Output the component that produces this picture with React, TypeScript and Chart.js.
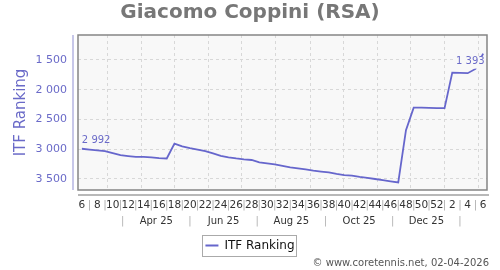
import { useEffect, useRef } from 'react';
import { Chart, registerables } from 'chart.js';

Chart.register(...registerables);

const playerName = 'Giacomo Coppini (RSA)';
const seriesLabel = 'ITF Ranking';
const credit = '\u00a9 www.coretennis.net, 02-04-2026';

const weeks: string[] = [
  '6', '7', '8', '9', '10', '11', '12', '13', '14', '15', '16', '17', '18', '19', '20', '21',
  '22', '23', '24', '25', '26', '27', '28', '29', '30', '31', '32', '33', '34', '35', '36', '37',
  '38', '39', '40', '41', '42', '43', '44', '45', '46', '47', '48', '49', '50', '51', '52',
  '1', '2', '3', '4', '5', '6',
];

const ranking: number[] = [
  2992, 3005, 3018, 3030, 3065, 3100, 3115, 3128, 3128, 3135, 3150, 3155,
  2904, 2950, 2980, 3005, 3030, 3070, 3110, 3135, 3155, 3170, 3181, 3220,
  3237, 3255, 3280, 3303, 3320, 3340, 3360, 3375, 3390, 3415, 3435, 3445,
  3465, 3482, 3500, 3520, 3540, 3558, 2680, 2300, 2302, 2305, 2308, 2310,
  1712, 1716, 1722, 1650, 1393,
];

const yTicks: number[] = [1500, 2000, 2500, 3000, 3500];
const yMin = 1080;
const yMax = 3685;

const firstWeekDate = '2025-02-06';
const monthStarts: string[] = [
  '2025-03-01', '2025-04-01', '2025-05-01', '2025-06-01', '2025-07-01', '2025-08-01',
  '2025-09-01', '2025-10-01', '2025-11-01', '2025-12-01', '2026-01-01', '2026-02-01',
];
const monthBreaks: string[] = [
  '2025-03-15', '2025-05-15', '2025-07-15', '2025-09-15', '2025-11-15', '2026-01-15',
];
const monthLabels: string[] = ['Apr 25', 'Jun 25', 'Aug 25', 'Oct 25', 'Dec 25'];

const FONT = 'DejaVu Sans';
const LINE = '#6666cc';
const BLUE_TEXT = '#6a6ac8';

const weekPos = (d: string) => (Date.parse(d) - Date.parse(firstWeekDate)) / (7 * 86400000);
const fmt = (v: number) => String(Math.round(v)).replace(/\B(?=(\d{3})+(?!\d))/g, ' ');

const monthTicks: { pos: number; text: string }[] = [];
monthBreaks.forEach((b, k) => {
  monthTicks.push({ pos: weekPos(b), text: '|' });
  if (k < monthLabels.length) {
    monthTicks.push({ pos: (weekPos(b) + weekPos(monthBreaks[k + 1])) / 2, text: monthLabels[k] });
  }
});

const decor = {
  id: 'decor',
  beforeDraw(chart: any) {
    const { ctx, chartArea: a } = chart;
    ctx.save();
    ctx.fillStyle = '#f8f8f8';
    ctx.fillRect(a.left, a.top, a.right - a.left, a.bottom - a.top);
    ctx.restore();
  },
  afterDatasetsDraw(chart: any) {
    const { ctx, chartArea: a } = chart;
    ctx.save();
    ctx.strokeStyle = '#858585';
    ctx.lineWidth = 1.5;
    ctx.strokeRect(a.left, a.top, a.right - a.left, a.bottom - a.top);

    const meta = chart.getDatasetMeta(0);
    const n = meta.data.length;
    const p0 = meta.data[0];
    const pn = meta.data[n - 1];
    ctx.font = `10px ${FONT}`;
    ctx.fillStyle = BLUE_TEXT;
    ctx.textAlign = 'left';
    ctx.textBaseline = 'alphabetic';
    ctx.fillText(fmt(ranking[0]), p0.x, p0.y - 6);

    const txt = fmt(ranking[n - 1]);
    const w = ctx.measureText(txt).width;
    ctx.fillStyle = '#f8f8f8';
    ctx.fillRect(pn.x + 1.5 - w - 1, pn.y + 3, w + 2, 12);
    ctx.fillStyle = BLUE_TEXT;
    ctx.textAlign = 'right';
    ctx.textBaseline = 'top';
    ctx.fillText(txt, pn.x + 1.5, pn.y + 3);
    ctx.restore();
  },
  afterDraw(chart: any) {
    const { ctx, chartArea: a } = chart;
    ctx.save();
    ctx.lineWidth = 1.5;
    ctx.strokeStyle = '#b4b4e2';
    ctx.beginPath();
    ctx.moveTo(a.left - 5, a.top);
    ctx.lineTo(a.left - 5, a.bottom);
    ctx.stroke();
    ctx.strokeStyle = '#a0a0a0';
    ctx.beginPath();
    ctx.moveTo(a.left, a.bottom + 5);
    ctx.lineTo(a.right + 2, a.bottom + 5);
    ctx.stroke();

    const lg = chart.legend;
    if (lg && lg.legendHitBoxes && lg.legendHitBoxes[0]) {
      const hb = lg.legendHitBoxes[0];
      const cy = hb.top + hb.height / 2;
      ctx.strokeStyle = '#aaaaaa';
      ctx.lineWidth = 1;
      ctx.strokeRect(Math.round(hb.left - 3) + 0.5, Math.round(cy - 10.5) + 0.5, Math.round(hb.width + 5), 21);
    }

    ctx.font = `10px ${FONT}`;
    ctx.fillStyle = '#555';
    ctx.textAlign = 'right';
    ctx.textBaseline = 'middle';
    ctx.fillText(credit, 489, 263);
    ctx.restore();
  },
};

export default function App() {
  const ref = useRef<HTMLCanvasElement | null>(null);

  useEffect(() => {
    if (!ref.current) return;
    Chart.defaults.font.family = FONT;
    const chart = new Chart(ref.current, {
      type: 'line',
      data: {
        labels: weeks,
        datasets: [
          {
            label: seriesLabel,
            data: ranking,
            borderColor: LINE,
            backgroundColor: LINE,
            borderWidth: 1.8,
            pointRadius: 0,
            pointHoverRadius: 0,
            tension: 0,
            fill: false,
            xAxisID: 'x',
            yAxisID: 'y',
          },
        ],
      },
      options: {
        animation: false,
        responsive: false,
        devicePixelRatio: 1,
        layout: { padding: { left: 0, right: 0, top: 0, bottom: 8.5 } },
        plugins: {
          title: {
            display: true,
            text: playerName,
            color: '#777777',
            font: { size: 20, weight: 'bold', family: FONT },
            padding: { top: 1, bottom: 10 },
          },
          legend: {
            position: 'bottom',
            labels: {
              usePointStyle: true,
              pointStyle: 'line',
              pointStyleWidth: 13,
              padding: 10.5,
              color: '#111',
              font: { size: 12, family: FONT },
            },
          },
          tooltip: { enabled: false },
        },
        scales: {
          x: {
            type: 'category',
            offset: true,
            weight: 1,
            grid: { display: false, drawTicks: false, tickLength: 0 },
            border: { display: false },
            ticks: {
              autoSkip: false,
              maxRotation: 0,
              minRotation: 0,
              padding: 8.5,
              font: { size: 10.5, family: FONT },
              color: (c: any) => (c.index % 2 ? '#b0b0b0' : '#333'),
              callback: (_v: any, i: number) => (i % 2 ? '|' : weeks[i]),
            },
            afterFit: (s: any) => {
              s.height = 21;
            },
          },
          xm: {
            type: 'linear',
            position: 'bottom',
            min: -0.5,
            max: 52.5,
            weight: 2,
            grid: { display: false, drawTicks: false, tickLength: 0 },
            border: { display: false },
            afterBuildTicks: (s: any) => {
              s.ticks = monthTicks.map((t) => ({ value: t.pos }));
            },
            ticks: {
              autoSkip: false,
              maxRotation: 0,
              minRotation: 0,
              padding: 4,
              font: { size: 10, family: FONT },
              color: (c: any) => (monthTicks[c.index] && monthTicks[c.index].text === '|' ? '#b0b0b0' : '#333'),
              callback: (_v: any, i: number) => (monthTicks[i] ? monthTicks[i].text : ''),
            },
            afterFit: (s: any) => {
              s.height = 18;
            },
          },
          xg: {
            type: 'linear',
            position: 'bottom',
            min: -0.5,
            max: 52.5,
            weight: 0,
            ticks: { display: false },
            grid: { color: '#d8d8d8', drawTicks: false, tickLength: 0, lineWidth: 1 },
            border: { display: false, dash: [3, 3] },
            afterBuildTicks: (s: any) => {
              s.ticks = monthStarts.map((d) => ({ value: weekPos(d) }));
            },
            afterFit: (s: any) => {
              s.height = 0;
            },
          },
          y: {
            type: 'linear',
            reverse: true,
            min: yMin,
            max: yMax,
            afterBuildTicks: (s: any) => {
              s.ticks = yTicks.map((v) => ({ value: v }));
            },
            grid: { color: '#d8d8d8', drawTicks: false, tickLength: 0, lineWidth: 1 },
            border: { display: false, dash: [3, 3] },
            ticks: {
              padding: 11,
              color: BLUE_TEXT,
              font: { size: 11, family: FONT },
              callback: (v: any) => fmt(Number(v)),
            },
            title: {
              display: true,
              text: seriesLabel,
              color: BLUE_TEXT,
              font: { size: 15, family: FONT },
              padding: { top: 12, bottom: 0 },
            },
            afterFit: (s: any) => {
              s.width = 78;
            },
          },
          yr: {
            type: 'linear',
            position: 'right',
            display: true,
            ticks: { display: false },
            grid: { display: false, drawTicks: false, tickLength: 0 },
            border: { display: false },
            afterFit: (s: any) => {
              s.width = 13;
            },
          },
        },
      } as any,
      plugins: [decor],
    });
    return () => chart.destroy();
  }, []);

  return (
    <div style={{ position: 'fixed', left: 0, top: 0, width: 500, height: 270 }}>
      <canvas ref={ref} width={500} height={270} />
    </div>
  );
}
